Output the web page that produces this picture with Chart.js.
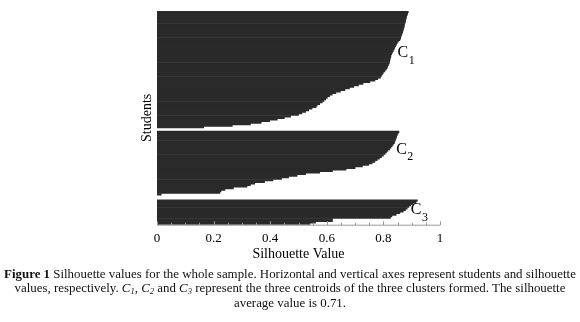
<!DOCTYPE html>
<html>
<head>
<meta charset="utf-8">
<script src="https://cdn.jsdelivr.net/npm/chart.js@4.4.1/dist/chart.umd.min.js"></script>
<style>
  html, body { margin: 0; padding: 0; background: #fff; }
  body { width: 580px; height: 322px; position: relative; overflow: hidden; }
  #wrap { position: absolute; left: 0; top: 0; width: 580px; height: 270px; }
  #caption { position: absolute; left: 0; top: 266.5px; width: 580px; text-align: center;
    font-family: "Liberation Serif", "Times New Roman", serif; font-size: 12.9px; line-height: 14.5px; color: #111; white-space: nowrap; }
  #caption sub { font-size: 8.5px; line-height: 0; vertical-align: baseline; position: relative; top: 2px; }
</style>
</head>
<body>
<div id="wrap"><canvas id="c" width="580" height="270"></canvas></div>
<div id="caption"><b>Figure 1</b> Silhouette values for the whole sample. Horizontal and vertical axes represent students and silhouette<br>values, respectively. <i>C<sub>1</sub></i>, <i>C<sub>2</sub></i> and <i>C<sub>3</sub></i> represent the three centroids of the three clusters formed. The silhouette<br>average value is 0.71.</div>
<script>
// Silhouette values, sorted descending within each cluster
const cluster1 = [0.888,0.886,0.884,0.882,0.881,0.879,0.878,0.877,0.875,0.874,
  0.873,0.871,0.870,0.868,0.866,0.864,0.862,0.861,0.858,0.853,
  0.849,0.846,0.843,0.840,0.838,0.835,0.832,0.829,0.827,0.826,
  0.824,0.823,0.822,0.821,0.818,0.815,0.813,0.810,0.805,0.800,
  0.797,0.793,0.790,0.780,0.770,0.752,0.728,0.712,0.695,0.680,
  0.664,0.648,0.632,0.619,0.610,0.602,0.596,0.590,0.584,0.575,
  0.566,0.562,0.548,0.536,0.525,0.512,0.500,0.472,0.450,0.425,
  0.398,0.368,0.330,0.266,0.165];
const cluster2 = [0.855,0.852,0.849,0.847,0.845,0.843,0.841,0.839,0.835,0.831,
  0.827,0.822,0.816,0.811,0.806,0.800,0.793,0.786,0.778,0.770,
  0.760,0.748,0.726,0.700,0.668,0.620,0.575,0.525,0.495,0.465,
  0.440,0.410,0.380,0.345,0.330,0.318,0.270,0.240,0.226,0.222,0.015];
const cluster3 = [0.920,0.915,0.905,0.897,0.890,0.884,0.878,0.870,0.858,0.845,
  0.830,0.825,0.620,0.620,0.560,0.540];
const clusterNames = ["C", "C", "C"];
const clusterSubs = ["1", "2", "3"];
const xTicks = [0, 0.2, 0.4, 0.6, 0.8, 1];
const gapAfter1 = 2, gapAfter2 = 3;

// Build category list (students) with empty rows between clusters
const values = [];
cluster1.forEach(v => values.push(v));
for (let i = 0; i < gapAfter1; i++) values.push(null);
cluster2.forEach(v => values.push(v));
for (let i = 0; i < gapAfter2; i++) values.push(null);
cluster3.forEach(v => values.push(v));
const labels = values.map((v, i) => String(i + 1));

// label anchors: [x value, row index]
const anchors = [[0.850, 26.6], [0.845, 88.5], [0.897, 127.0]];

const serif = '"Liberation Serif", "Times New Roman", serif';

const deco = {
  id: 'deco',
  afterDraw(chart) {
    const ctx = chart.ctx;
    const xs = chart.scales.x, ys = chart.scales.y;
    const yb = chart.chartArea.bottom;
    ctx.save();
    ctx.strokeStyle = '#9a9a9a';
    ctx.lineWidth = 1;
    ctx.beginPath();
    ctx.moveTo(xs.getPixelForValue(0), yb + 0.5);
    ctx.lineTo(xs.getPixelForValue(1), yb + 0.5);
    for (let k = 0; k <= 20; k++) {
      const px = Math.round(xs.getPixelForValue(k / 20)) + 0.5;
      const len = (k % 4 === 0) ? 4 : 2.5;
      ctx.moveTo(px, yb + 0.5);
      ctx.lineTo(px, yb + 0.5 - len);
    }
    ctx.stroke();
    ctx.fillStyle = '#000';
    ctx.textBaseline = 'middle';
    ctx.textAlign = 'left';
    anchors.forEach((a, i) => {
      const x = xs.getPixelForValue(a[0]);
      const y = ys.getPixelForValue(a[1]);
      ctx.font = '16px ' + serif;
      ctx.fillText(clusterNames[i], x, y);
      const w = ctx.measureText(clusterNames[i]).width;
      ctx.font = '12px ' + serif;
      ctx.fillText(clusterSubs[i], x + w + 0.5, y + 7.5);
    });
    ctx.restore();
  }
};

new Chart(document.getElementById('c'), {
  type: 'bar',
  data: {
    labels: labels,
    datasets: [{
      data: values,
      backgroundColor: '#2a2a2a',
      borderWidth: 0,
      barPercentage: 1,
      categoryPercentage: 1
    }]
  },
  options: {
    indexAxis: 'y',
    responsive: false,
    animation: false,
    devicePixelRatio: 1,
    layout: { padding: { left: 139, right: 140, top: 11, bottom: 7.3 } },
    plugins: { legend: { display: false }, tooltip: { enabled: false } },
    scales: {
      x: {
        type: 'linear', min: 0, max: 1,
        afterBuildTicks(scale) { scale.ticks = xTicks.map(v => ({ value: v })); },
        afterFit(scale) { scale.height = 38; },
        grid: { display: false, drawTicks: false },
        border: { display: false },
        ticks: { color: '#000', font: { family: serif, size: 13 }, padding: 6, maxRotation: 0, autoSkip: false,
          callback: v => String(v) },
        title: { display: true, text: 'Silhouette Value', color: '#000', font: { family: serif, size: 14 }, padding: 0 }
      },
      y: {
        type: 'category',
        afterFit(scale) { scale.width = 18; },
        grid: { display: false },
        border: { display: false },
        ticks: { display: false },
        title: { display: true, text: 'Students', color: '#000', font: { family: serif, size: 14 }, padding: 0 }
      }
    }
  },
  plugins: [deco]
});
</script>
</body>
</html>
